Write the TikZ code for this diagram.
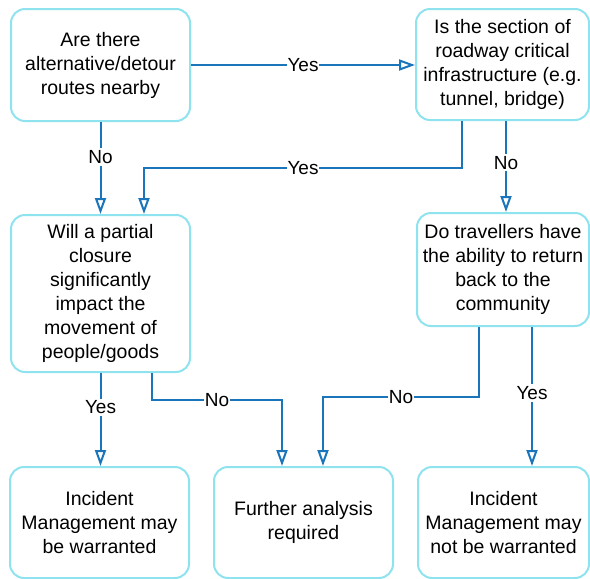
\documentclass[tikz,border=0pt]{standalone}
\usepackage{fontspec}
\setmainfont{Liberation Sans}
\usetikzlibrary{arrows.meta}
\definecolor{boxc}{HTML}{8FE3EE}
\definecolor{arrc}{HTML}{1B75BB}
\tikzset{
  qbox/.style={draw=boxc, line width=2pt, rounded corners=14pt, align=center,
    fill=white, inner sep=0pt, font=\fontsize{19.5pt}{24pt}\selectfont},
  arr/.style={draw=arrc, line width=2pt, -{Triangle[open, length=16pt, width=11pt, line width=2pt]}},
  lbl/.style={fill=white, inner xsep=0.5pt, inner ysep=2pt, text=black,
    font=\fontsize{19pt}{22pt}\selectfont}
}
\begin{document}
\begin{tikzpicture}[x=1pt,y=-1pt]
\useasboundingbox (0,0) rectangle (590,579);
\node[qbox, minimum width=179pt, minimum height=112pt] (A) at (100.5,65) {Are there\\alternative/detour\\routes nearby};
\node[qbox, minimum width=173pt, minimum height=111pt] (B) at (502.5,64.5) {Is the section of\\roadway critical\\infrastructure (e.g.\\tunnel, bridge)};
\node[qbox, minimum width=179pt, minimum height=157pt] (C) at (100.5,293.5) {Will a partial\\closure\\significantly\\impact the\\movement of\\people/goods};
\node[qbox, minimum width=172pt, minimum height=113pt] (D) at (503,269.5) {Do travellers have\\the ability to return\\back to the\\community};
\node[qbox, minimum width=179pt, minimum height=111pt] (E) at (99.5,522.5) {Incident\\Management may\\be warranted};
\node[qbox, minimum width=179pt, minimum height=111pt] (F) at (303.5,522.5) {Further analysis\\required};
\node[qbox, minimum width=171pt, minimum height=111pt] (G) at (503.5,522.5) {Incident\\Management may\\not be warranted};

\draw[arr] (A.east) -- node[lbl]{Yes} (A.east -| B.west);
\draw[arr] (A.south) -- node[lbl, pos=0.38]{No} (A.south |- C.north);
\draw[arr] ([xshift=-40.5pt]B.south) -- ++(0,47) -- node[lbl]{Yes} ++(-318,0) -- ([xshift=43.5pt]C.north);
\draw[arr] ([xshift=3.5pt]B.south) -- node[lbl, pos=0.46]{No} ([xshift=3.5pt]B.south |- D.north);
\draw[arr] (C.south) -- node[lbl, pos=0.37]{Yes} (C.south |- E.north);
\draw[arr] ([xshift=51.5pt]C.south) -- ++(0,27) -- node[lbl]{No} ++(130,0) -- ([xshift=-21.5pt]F.north);
\draw[arr] ([xshift=-24pt]D.south) -- ++(0,70) -- node[lbl]{No} ++(-156,0) -- ([xshift=19.5pt]F.north);
\draw[arr] ([xshift=29pt]D.south) -- node[lbl, pos=0.475]{Yes} ([xshift=29pt]D.south |- G.north);
\end{tikzpicture}
\end{document}
